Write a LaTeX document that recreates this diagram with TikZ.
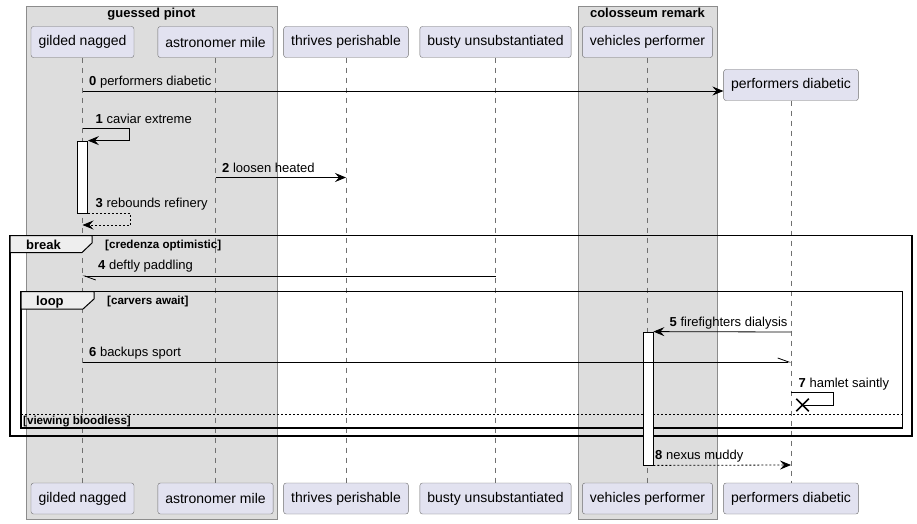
\documentclass[tikz,border=0pt]{standalone}
\usepackage{fontspec}
\setmainfont{Liberation Sans}
\usetikzlibrary{arrows.meta,shapes.misc}
\definecolor{partfill}{HTML}{E2E2F0}
\definecolor{partline}{HTML}{6E6E6E}
\definecolor{boxfill}{HTML}{DDDDDD}
\definecolor{boxline}{HTML}{8C8C8C}
\definecolor{tabfill}{HTML}{EEEEEE}
\definecolor{lifeline}{HTML}{707070}
\begin{document}
\begin{tikzpicture}[x=1pt,y=-1pt,
		part/.style={draw=partline,fill=partfill,rounded corners=2.5pt,minimum height=31pt,inner xsep=7.5pt,inner ysep=0pt,font=\fontsize{14}{16}\selectfont},
		life/.style={lifeline,dash pattern=on 5pt off 5pt,line width=.7pt},
		act/.style={draw,fill=white,line width=.8pt,minimum width=10pt,inner sep=0pt},
		msg/.style={line width=.8pt,-{Stealth[length=11pt,width=9pt,inset=4pt]}},
		ret/.style={msg,dash pattern=on 2pt off 2pt},
		half/.style={line width=.8pt,-{Straight Barb[harpoon,length=11pt,width=8pt]}},
		lbl/.style={anchor=base west,inner sep=0pt,font=\fontsize{13}{15}\selectfont},
		frm/.style={line width=1.5pt},
		tab/.style={fill=tabfill,line width=1pt},
		kind/.style={anchor=base west,inner sep=0pt,font=\fontsize{13}{15}\selectfont\bfseries},
		guard/.style={anchor=base west,inner sep=0pt,font=\fontsize{11.6}{13}\selectfont\bfseries}]
		\useasboundingbox[fill=white] (0,0) rectangle (917,524);
		\draw[boxline,fill=boxfill] (26,6) rectangle (277,519);
		\node[kind,anchor=base] (g1) at (151.5,17.5) {guessed pinot};
		\draw[boxline,fill=boxfill] (578,6) rectangle (717,519);
		\node[kind,anchor=base] (g2) at (647.5,18) {colosseum remark};
		\node[part] (gnT) at (82.5,42) {gilded nagged};
		\node[part] (amT) at (215.5,42) {astronomer mile};
		\node[part] (tpT) at (346,42) {thrives perishable};
		\node[part] (buT) at (495.5,42) {busty unsubstantiated};
		\node[part] (vpT) at (647.5,42) {vehicles performer};
		\node[part] (pdT) at (791,85) {performers diabetic};
		\node[part] (gnB) at (82.5,498.5) {gilded nagged};
		\node[part] (amB) at (215.5,498.5) {astronomer mile};
		\node[part] (tpB) at (346,498.5) {thrives perishable};
		\node[part] (buB) at (495.5,498.5) {busty unsubstantiated};
		\node[part] (vpB) at (647.5,498.5) {vehicles performer};
		\node[part] (pdB) at (791,498.5) {performers diabetic};
		\foreach \p in {gn,am,tp,bu,vp,pd}
			\draw[life] (\p T) -- (\p B);
		\draw[frm] (10,235.5) rectangle (912,436);
		\draw[tab] (10,235.5) -- (92,235.5) -- (92,243) -- (82,252.5) -- (10,252.5) -- cycle;
		\node[kind] (kb) at (26,249) {break};
		\node[guard] (gb) at (105,248.5) {[credenza optimistic]};
		\draw[frm] (21,291.5) rectangle (902.5,428);
		\draw[tab] (21,291.5) -- (94,291.5) -- (94,299) -- (83,309) -- (21,309) -- cycle;
		\node[kind] (kl) at (36,305) {loop};
		\node[guard] (gl) at (107,304.5) {[carvers await]};
		\draw[line width=.8pt,dash pattern=on 2pt off 2pt] (21,414.5) -- (902.5,414.5);
		\node[guard] (ge) at (23,424.5) {[viewing bloodless]};
		\node[act,minimum height=72pt] (act1) at (82.5,177) {};
		\node[act,minimum height=133pt] (act2) at (648,398.5) {};
		\draw[msg] (gnT |- 0,91) -- (pdT.west |- 0,91);
		\node[lbl] (l0) at (89,85.5) {\textbf{0} performers diabetic};
		\draw[msg] (gnT |- 0,128) -- ++(46.5,0) |- (act1.north east);
		\node[lbl] (l1) at (95.5,123) {\textbf{1} caviar extreme};
		\draw[msg] (amT |- 0,177.5) -- (tpT |- 0,177.5);
		\node[lbl] (l2) at (222,172) {\textbf{2} loosen heated};
		\draw[ret] (act1.south east) -- ++(42.5,0) |- (gnT |- 0,225);
		\node[lbl] (l3) at (95.5,207) {\textbf{3} rebounds refinery};
		\draw[half] (buT |- 0,276) -- (gnT |- 0,276);
		\node[lbl] (l4) at (98,269) {\textbf{4} deftly paddling};
		\draw[msg] (pdT |- 0,332) -- (act2.north east);
		\node[lbl] (l5) at (669.5,326.5) {\textbf{5} firefighters dialysis};
		\draw[half] (gnT |- 0,362) -- (pdT |- 0,362);
		\node[lbl] (l6) at (89,356) {\textbf{6} backups sport};
		\node[draw,cross out,line width=1.5pt,minimum size=11pt,inner sep=0pt] (x7) at (802.5,405) {};
		\draw[line width=.8pt] (pdT |- 0,392.5) -- ++(42,0) |- (x7.center);
		\node[lbl] (l7) at (798.5,387.5) {\textbf{7} hamlet saintly};
		\draw[ret] (act2.south east) -- (pdT |- 0,465);
		\node[lbl] (l8) at (655,459.5) {\textbf{8} nexus muddy};
	\end{tikzpicture}
\end{document}
